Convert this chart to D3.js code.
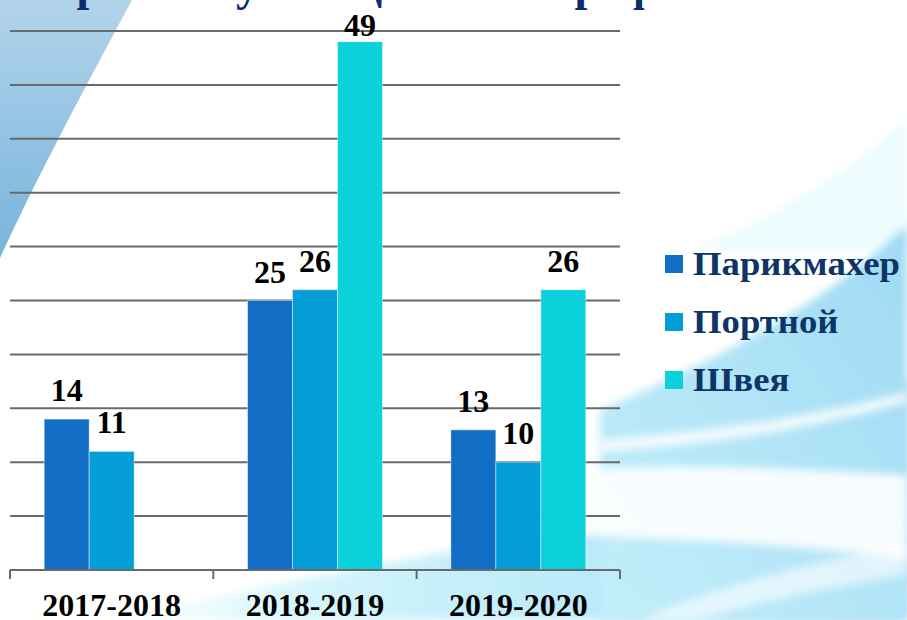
<!DOCTYPE html>
<html>
<head>
<meta charset="UTF-8">
<title>Профессии по годам</title>
<script src="https://d3js.org/d3.v7.min.js"></script>
<style>
  body { margin: 0; background: #fff; }
  svg { display: block; }
</style>
</head>
<body>
<svg id="chart"></svg>
<script>
const years = ["2017-2018", "2018-2019", "2019-2020"];
const series = ["Парикмахер", "Портной", "Швея"];
const hairdresser = [14, 25, 13];
const tailor = [11, 26, 10];
const seamstress = [null, 49, 26];
const yTicks = [0, 5, 10, 15, 20, 25, 30, 35, 40, 45, 50];
const colors = ["#116ec4", "#039dd7", "#0cd0da"];
const title = "Приём обучающихся по профессиям";

const width = 907, height = 620;
const margin = {top: 31, right: 287, bottom: 50, left: 10};
const serif = "'Liberation Serif'";

const svg = d3.select("#chart").attr("width", width).attr("height", height);

// background decoration
const defs = svg.append("defs");
const g1 = defs.append("linearGradient").attr("id", "gLeft")
  .attr("x1", 0).attr("y1", 0).attr("x2", 0).attr("y2", 1);
g1.append("stop").attr("offset", 0).attr("stop-color", "#b2d4ea");
g1.append("stop").attr("offset", 1).attr("stop-color", "#78b3dd");

const g2 = defs.append("linearGradient").attr("id", "gBottom")
  .attr("x1", 0).attr("y1", 0).attr("x2", 1).attr("y2", 0);
g2.append("stop").attr("offset", 0).attr("stop-color", "#ffffff");
g2.append("stop").attr("offset", 0.25).attr("stop-color", "#d2f5fb");
g2.append("stop").attr("offset", 0.7).attr("stop-color", "#b4e6f8");
g2.append("stop").attr("offset", 1).attr("stop-color", "#a2dbf4");

const g3 = defs.append("linearGradient").attr("id", "gRight")
  .attr("x1", 1).attr("y1", 0).attr("x2", 0).attr("y2", 1);
g3.append("stop").attr("offset", 0).attr("stop-color", "#9fdaf4");
g3.append("stop").attr("offset", 1).attr("stop-color", "#c4eefa");

const blur = defs.append("filter").attr("id", "soft");
blur.append("feGaussianBlur").attr("stdDeviation", 4);

svg.append("rect").attr("width", width).attr("height", height).attr("fill", "#fff");
svg.append("path").attr("d", "M0,0 L132,0 C100,60 45,160 0,258 Z").attr("fill", "url(#gLeft)");
svg.append("path").attr("d", "M907,120 C840,180 760,225 690,250 L907,250 Z").attr("fill", "#e4fafd").attr("opacity", 0.7).attr("filter", "url(#soft)");
svg.append("path").attr("d", "M120,620 C300,575 450,555 600,520 C720,490 820,440 907,380 L907,620 Z").attr("fill", "url(#gBottom)").attr("filter", "url(#soft)");
svg.append("path").attr("d", "M907,225 C830,300 720,360 600,410 L600,620 L907,620 Z").attr("fill", "url(#gRight)").attr("filter", "url(#soft)");
svg.append("path").attr("d", "M600,440 C700,432 800,420 907,392 L907,402 C800,432 700,445 600,452 Z").attr("fill", "#fff").attr("opacity", 0.85).attr("filter", "url(#soft)");
svg.append("path").attr("d", "M560,470 C700,462 820,470 907,475 L907,560 C800,545 700,540 560,535 Z").attr("fill", "#fff").attr("opacity", 0.9).attr("filter", "url(#soft)");
svg.append("path").attr("d", "M640,620 C720,585 820,560 907,545 L907,575 C820,590 740,605 700,620 Z").attr("fill", "#fff").attr("opacity", 0.6).attr("filter", "url(#soft)");

// cut-off title
svg.append("text").attr("x", 420).attr("y", 0).attr("text-anchor", "middle")
  .style("font-family", serif).attr("font-weight", "bold")
  .attr("font-size", 46).attr("fill", "#0b2c6b").text(title);

const x = d3.scaleBand().domain(years).range([margin.left, width - margin.right]);
const xSub = d3.scaleBand().domain(series).range([0, x.bandwidth()]).paddingOuter(0.76);
const y = d3.scaleLinear().domain([0, 50]).range([height - margin.bottom, margin.top]);

// grid
svg.append("g").selectAll("line").data(yTicks.slice(1)).join("line")
  .attr("x1", margin.left).attr("x2", width - margin.right)
  .attr("y1", d => y(d)).attr("y2", d => y(d))
  .attr("stroke", "#6a6a6a").attr("stroke-width", 2);

const data = years.map((yr, i) => ({
  year: yr,
  vals: series.map((s, j) => ({key: s, idx: j, value: [hairdresser, tailor, seamstress][j][i]}))
}));

const groups = svg.append("g").selectAll("g").data(data).join("g")
  .attr("transform", d => `translate(${x(d.year)},0)`);

groups.selectAll("rect").data(d => d.vals.filter(v => v.value != null)).join("rect")
  .attr("x", d => xSub(d.key)).attr("width", xSub.bandwidth())
  .attr("y", d => y(d.value)).attr("height", d => y(0) - y(d.value))
  .attr("fill", d => colors[d.idx])
  .attr("stroke", "rgba(255,255,255,0.45)").attr("stroke-width", 1);

groups.selectAll("text").data(d => d.vals.filter(v => v.value != null)).join("text")
  .attr("x", d => xSub(d.key) + xSub.bandwidth() / 2)
  .attr("y", d => Math.max(y(d.value) - 18, 36))
  .attr("text-anchor", "middle").style("font-family", serif).attr("font-weight", "bold")
  .attr("font-size", 32).attr("fill", "#000")
  .text(d => d.value);

// x axis
const xAxis = svg.append("g").attr("transform", `translate(0,${y(0)})`);
xAxis.append("line").attr("x1", margin.left).attr("x2", width - margin.right)
  .attr("stroke", "#6a6a6a").attr("stroke-width", 2);
const edges = years.map(d => x(d)).concat([x(years[years.length - 1]) + x.bandwidth()]);
xAxis.selectAll(".tick").data(edges).join("line")
  .attr("x1", d => d).attr("x2", d => d).attr("y1", 0).attr("y2", 9)
  .attr("stroke", "#6a6a6a").attr("stroke-width", 2);
xAxis.selectAll("text").data(years).join("text")
  .attr("x", d => x(d) + x.bandwidth() / 2).attr("y", 46)
  .attr("text-anchor", "middle").style("font-family", serif).attr("font-weight", "bold")
  .attr("font-size", 32).attr("fill", "#000")
  .text(d => d);

// legend
const legend = svg.append("g").attr("transform", "translate(665,255)");
const items = legend.selectAll("g").data(series).join("g")
  .attr("transform", (d, i) => `translate(0,${i * 58})`);
items.append("rect").attr("width", 18).attr("height", 18).attr("fill", (d, i) => colors[i]);
items.append("text").attr("transform", "translate(28,20) scale(1.08,1)")
  .style("font-family", serif).attr("font-weight", "bold").attr("font-size", 34)
  .attr("fill", "#0e3566").text(d => d);
</script>
</body>
</html>
